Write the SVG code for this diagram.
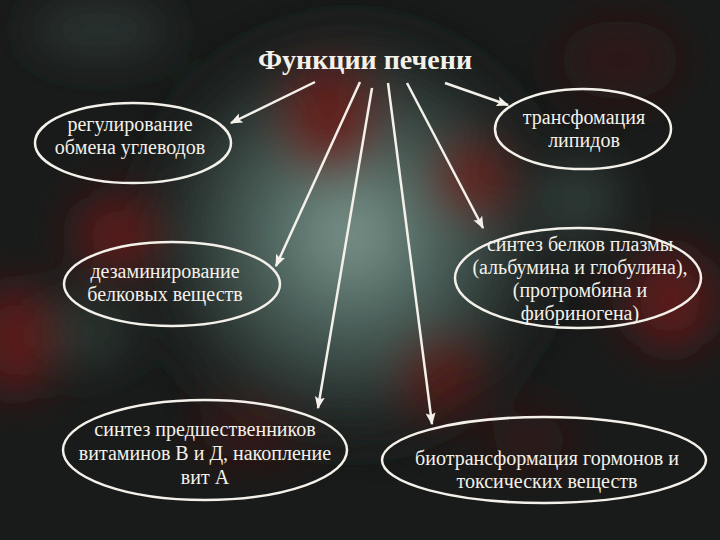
<svg xmlns="http://www.w3.org/2000/svg" width="720" height="540" viewBox="0 0 720 540">
<defs>
<style>
.node ellipse{fill:none;stroke:#f4f1ea;stroke-width:2.5}
.node text{font-family:"Liberation Serif","Times New Roman",serif;font-size:20px;fill:#f4f1ea;text-anchor:middle}
.title{font-family:"Liberation Serif","Times New Roman",serif;font-size:28px;font-weight:bold;fill:#f4f1ea;text-anchor:middle}
#connectors line{stroke:#f4f1ea;stroke-width:2.5;marker-end:url(#ah)}
</style>
<marker id="ah" viewBox="0 0 10 10" refX="9" refY="5" markerWidth="5" markerHeight="5" orient="auto" markerUnits="strokeWidth">
<path d="M0,1 L10,5 L0,9 L2,5 Z" fill="#f4f1ea"/>
</marker>
<radialGradient id="glow" cx="350" cy="235" r="230" gradientUnits="userSpaceOnUse">
<stop offset="0" stop-color="#7f988f"/>
<stop offset="0.3" stop-color="#556d66"/>
<stop offset="0.7" stop-color="#2a3431"/>
<stop offset="1" stop-color="#181a19" stop-opacity="0"/>
</radialGradient>
<filter id="blur" x="-50%" y="-50%" width="200%" height="200%"><feGaussianBlur stdDeviation="22"/></filter>
</defs>
<rect width="720" height="540" fill="#191b1a"/>
<g filter="url(#blur)">
<rect width="720" height="540" fill="url(#glow)"/>
<ellipse cx="330" cy="120" rx="45" ry="55" fill="#6a1a16" opacity="0.85"/>
<ellipse cx="470" cy="180" rx="40" ry="35" fill="#6a1c16" opacity="0.8"/>
<ellipse cx="115" cy="235" rx="40" ry="40" fill="#6a1a16" opacity="0.8"/>
<ellipse cx="670" cy="300" rx="45" ry="50" fill="#6a1a16" opacity="0.8"/>
<ellipse cx="15" cy="340" rx="40" ry="55" fill="#6a1a16" opacity="0.8"/>
<ellipse cx="440" cy="375" rx="40" ry="40" fill="#5a1814" opacity="0.8"/>
<ellipse cx="530" cy="440" rx="40" ry="25" fill="#4a1612" opacity="0.6"/>
<ellipse cx="250" cy="430" rx="50" ry="30" fill="#4a1612" opacity="0.6"/>
<ellipse cx="620" cy="60" rx="60" ry="40" fill="#3a1210" opacity="0.6"/>
<ellipse cx="100" cy="30" rx="70" ry="30" fill="#2e3c38" opacity="0.7"/>
<ellipse cx="580" cy="200" rx="40" ry="40" fill="#3d4f49" opacity="0.6"/>
<ellipse cx="90" cy="330" rx="40" ry="40" fill="#3a4a44" opacity="0.5"/>
</g>
<text class="title" x="365" y="69">Функции печени</text>
<g id="connectors">
<line x1="315" y1="82" x2="231" y2="123"/>
<line x1="360" y1="82" x2="276" y2="266"/>
<line x1="372" y1="88" x2="318" y2="408"/>
<line x1="388" y1="83" x2="432" y2="424"/>
<line x1="407" y1="83" x2="483" y2="228"/>
<line x1="445" y1="83" x2="508" y2="105"/>
</g>
<g id="n1" class="node"><ellipse cx="133" cy="143" rx="98" ry="40"/><text x="130" y="131">регулирование</text><text x="130" y="154">обмена углеводов</text></g>
<g id="n2" class="node"><ellipse cx="583" cy="129" rx="88" ry="40"/><text x="584" y="124">трансфомация</text><text x="584" y="147">липидов</text></g>
<g id="n3" class="node"><ellipse cx="172" cy="284" rx="108" ry="42"/><text x="165" y="278">дезаминирование</text><text x="165" y="301">белковых веществ</text></g>
<g id="n4" class="node"><ellipse cx="578" cy="278" rx="123" ry="50"/><text x="580" y="251">синтез белков плазмы</text><text x="580" y="274">(альбумина и глобулина),</text><text x="580" y="297">(протромбина и</text><text x="580" y="320">фибриногена)</text></g>
<g id="n5" class="node"><ellipse cx="205" cy="450" rx="142" ry="50"/><text x="205" y="436">синтез предшественников</text><text x="205" y="460">витаминов В и Д, накопление</text><text x="205" y="484">вит А</text></g>
<g id="n6" class="node"><ellipse cx="544" cy="460" rx="162" ry="43"/><text x="547" y="465">биотрансформация гормонов и</text><text x="547" y="488">токсических веществ</text></g>
</svg>
